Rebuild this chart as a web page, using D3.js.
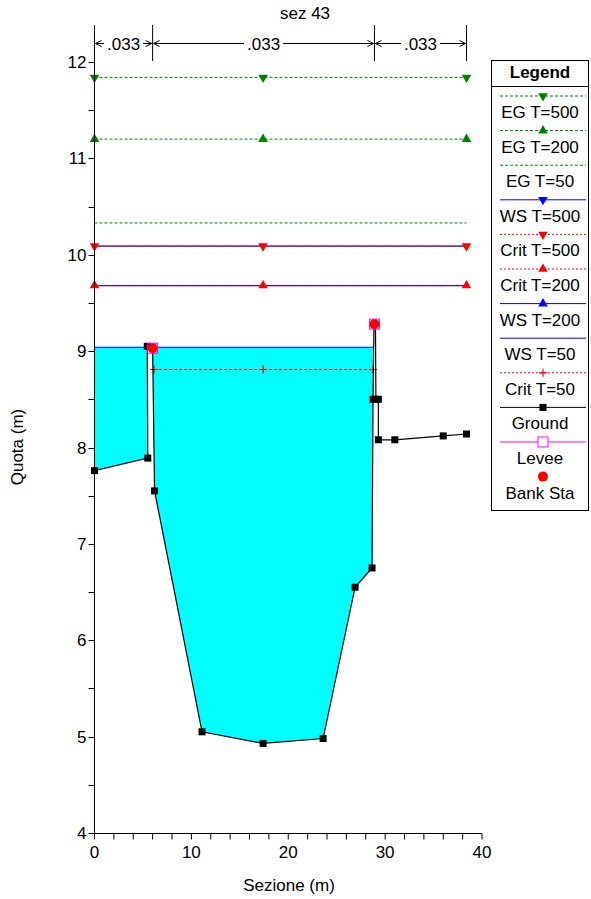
<!DOCTYPE html>
<html><head><meta charset="utf-8">
<script src="https://cdn.jsdelivr.net/npm/d3@7/dist/d3.min.js"></script>
<style>body{margin:0;background:#fff;} text{font-family:"Liberation Sans",Arial,sans-serif;}</style>
</head><body><svg id="c" width="591" height="899"></svg>
<script>
// ---- data ----
const groundX = [0, 5.5, 5.45, 6.0, 6.2, 11.1, 17.4, 23.6, 26.9, 28.65, 28.75, 28.85, 29.0, 29.05, 29.3, 29.3, 31.0, 36.0, 38.4];
const groundY = [7.76, 7.89, 9.05, 9.03, 7.55, 5.05, 4.93, 4.98, 6.55, 6.75, 8.5, 9.28, 9.28, 8.5, 8.5, 8.08, 8.08, 8.12, 8.14];
const bankX = [6.0, 28.9];
const bankY = [9.03, 9.28];
const mannX = [0, 6.0, 28.9, 38.4];
const mannN = [".033", ".033", ".033"];
const ws50 = 9.04, ws50X = [0, 28.75];
const crit50 = 8.81, crit50X = [6.15, 28.75];
const crit50Marks = [6.15, 17.4, 28.75];
const ws200 = 9.68, crit200 = 9.68;
const ws500 = 10.09, crit500 = 10.09;
const eg50 = 10.33, eg200 = 11.2, eg500 = 11.84;
const fullX = [0, 38.4];
const markerX = [0, 17.4, 38.4];
const xTicks = [0, 10, 20, 30, 40];
const yTicks = [4, 5, 6, 7, 8, 9, 10, 11, 12];
const legendItems = ["EG T=500","EG T=200","EG T=50","WS T=500","Crit T=500","Crit T=200","WS T=200","WS T=50","Crit T=50","Ground","Levee","Bank Sta"];

const svg = d3.select("#c");
const x = d3.scaleLinear().domain([0, 40]).range([94.5, 482]);
const y = d3.scaleLinear().domain([4, 12]).range([833, 62]);
const ys = v => Math.round(y(v)) + 0.5;
const GREEN = "#008000", BLUE = "#0000ff", RED = "#ff0000", MAG = "#ff00ff";
const FS = 17;

// title
svg.append("text").attr("x", 305).attr("y", 19).attr("text-anchor", "middle").attr("font-size", FS).text("sez 43");

// water fill
const ground = groundX.map((d, i) => [d, groundY[i]]);
svg.append("clipPath").attr("id", "wclip").append("rect")
  .attr("x", x(ws50X[0])).attr("y", y(ws50)).attr("width", x(ws50X[1]) - x(ws50X[0])).attr("height", y(4) - y(ws50));
svg.append("path").attr("clip-path", "url(#wclip)")
  .attr("d", d3.area().x(d => x(d[0])).y0(d => y(d[1])).y1(y(ws50))(ground))
  .attr("fill", "#00ffff");

// lines
function hline(xs, v, color, dash, w, snap) {
  const yy = snap ? ys(v) : y(v);
  svg.append("line").attr("x1", x(xs[0])).attr("x2", x(xs[1])).attr("y1", yy).attr("y2", yy)
    .attr("stroke", color).attr("stroke-width", w || 1).attr("stroke-dasharray", dash || null);
}
const triUp = d3.symbol().type(d3.symbolTriangle).size(40);
function tri(px, py, color, down) {
  svg.append("path").attr("d", triUp()).attr("fill", color)
    .attr("transform", `translate(${px},${py})` + (down ? " rotate(180)" : ""));
}
function plus(px, py, color) {
  svg.append("path").attr("d", `M${px-4},${py}H${px+4}M${px},${py-4}V${py+4}`).attr("stroke", color).attr("stroke-width", 1.2);
}
hline(fullX, eg500, GREEN, "3,2");
markerX.forEach(m => tri(x(m), y(eg500), GREEN, true));
hline(fullX, eg200, GREEN, "3,2");
markerX.forEach(m => tri(x(m), y(eg200), GREEN, false));
hline(fullX, eg50, GREEN, "3,2");
hline(fullX, ws500, BLUE, null, 1.2);
hline(fullX, crit500, RED, "2,2");
markerX.forEach(m => tri(x(m), y(crit500), RED, true));
hline(fullX, ws200, BLUE, null, 1.2);
hline(fullX, crit200, RED, "2,2");
markerX.forEach(m => tri(x(m), y(crit200), RED, false));
hline(ws50X, ws50, BLUE, null, 1.2);
hline(crit50X, crit50, RED, "3,2", 1, true);
crit50Marks.forEach(m => plus(x(m), ys(crit50), RED));

// ground
svg.append("path").attr("d", d3.line().x(d => x(d[0])).y(d => y(d[1]))(ground))
  .attr("fill", "none").attr("stroke", "#000").attr("stroke-width", 1.2);
ground.forEach(d => {
  if (d[1] === 9.28) return;
  svg.append("rect").attr("x", x(d[0]) - 3.5).attr("y", y(d[1]) - 3.5).attr("width", 7).attr("height", 7).attr("fill", "#000");
});
// levee + bank
bankX.forEach((b, i) => {
  svg.append("rect").attr("x", x(b) - 5).attr("y", y(bankY[i]) - 5).attr("width", 10).attr("height", 10)
    .attr("fill", "none").attr("stroke", MAG).attr("stroke-width", 1);
  svg.append("circle").attr("cx", x(b)).attr("cy", y(bankY[i])).attr("r", 5).attr("fill", RED);
});

// axes
const yMinor = d3.range(4, 12.01, 0.5);
const gy = svg.append("g");
gy.append("line").attr("x1", x(0)).attr("x2", x(0)).attr("y1", y(4)).attr("y2", 33).attr("stroke", "#000");
yMinor.forEach(v => gy.append("line").attr("x1", x(0) - 6).attr("x2", x(0)).attr("y1", ys(v)).attr("y2", ys(v)).attr("stroke", "#000"));
yTicks.forEach(v => gy.append("text").attr("x", x(0) - 8).attr("y", y(v) + 6).attr("text-anchor", "end").attr("font-size", FS).text(v));
const xMinor = d3.range(0, 40.01, 2);
const gx = svg.append("g");
gx.append("line").attr("x1", x(0)).attr("x2", x(40)).attr("y1", ys(4)).attr("y2", ys(4)).attr("stroke", "#000");
xMinor.forEach(v => gx.append("line").attr("x1", x(v)).attr("x2", x(v)).attr("y1", ys(4)).attr("y2", ys(4) + 6).attr("stroke", "#000"));
xTicks.forEach(v => gx.append("text").attr("x", x(v)).attr("y", 858).attr("text-anchor", "middle").attr("font-size", FS).text(v));
svg.append("text").attr("x", 289).attr("y", 891).attr("text-anchor", "middle").attr("font-size", FS).text("Sezione (m)");
svg.append("text").attr("transform", "translate(23,447) rotate(-90)").attr("text-anchor", "middle").attr("font-size", FS).text("Quota (m)");

// manning dimension lines
const ay = 43.5;
mannX.forEach(m => svg.append("line").attr("x1", x(m)).attr("x2", x(m)).attr("y1", 25).attr("y2", 61).attr("stroke", "#000"));
mannN.forEach((n, i) => {
  const a = x(mannX[i]) + 1, b = x(mannX[i + 1]) - 1, mid = (a + b) / 2;
  const t = svg.append("text").attr("x", mid).attr("y", ay + 6).attr("text-anchor", "middle").attr("font-size", FS).text(n);
  const tw = t.node().getComputedTextLength();
  svg.append("path").attr("d", `M${a},${ay}H${mid - tw / 2 - 3}M${mid + tw / 2 + 3},${ay}H${b}` +
    `M${a + 6},${ay - 3}L${a},${ay}L${a + 6},${ay + 3}M${b - 6},${ay - 3}L${b},${ay}L${b - 6},${ay + 3}`)
    .attr("fill", "none").attr("stroke", "#000");
});

// legend
const lg = svg.append("g");
lg.append("rect").attr("x", 491.5).attr("y", 60.5).attr("width", 97).attr("height", 450).attr("fill", "#fff").attr("stroke", "#000");
lg.append("line").attr("x1", 491).attr("x2", 589).attr("y1", 86.5).attr("y2", 86.5).attr("stroke", "#000");
lg.append("text").attr("x", 540).attr("y", 78).attr("text-anchor", "middle").attr("font-size", FS).attr("font-weight", "bold").text("Legend");
legendItems.forEach((name, i) => {
  const ly = 96 + i * 34.6, lx1 = 500, lx2 = 586, cx = 543;
  const seg = (c, dash) => lg.append("line").attr("x1", lx1).attr("x2", lx2).attr("y1", ly).attr("y2", ly)
    .attr("stroke", c).attr("stroke-dasharray", dash || null);
  if (name.startsWith("EG")) seg(GREEN, "3,2");
  if (name.startsWith("WS")) seg(BLUE);
  if (name.startsWith("Crit")) seg(RED, "2,2");
  if (name === "EG T=500") tri(cx, ly, GREEN, true);
  if (name === "EG T=200") tri(cx, ly, GREEN, false);
  if (name === "WS T=500") tri(cx, ly, BLUE, true);
  if (name === "Crit T=500") tri(cx, ly, RED, true);
  if (name === "Crit T=200") tri(cx, ly, RED, false);
  if (name === "WS T=200") tri(cx, ly, BLUE, false);
  if (name === "Crit T=50") plus(cx, ly, RED);
  if (name === "Ground") { seg("#000"); lg.append("rect").attr("x", cx - 3.5).attr("y", ly - 3.5).attr("width", 7).attr("height", 7).attr("fill", "#000"); }
  if (name === "Levee") { seg(MAG); lg.append("rect").attr("x", cx - 5).attr("y", ly - 5).attr("width", 10).attr("height", 10).attr("fill", "#fff").attr("stroke", MAG); }
  if (name === "Bank Sta") lg.append("circle").attr("cx", cx).attr("cy", ly).attr("r", 5).attr("fill", RED);
  lg.append("text").attr("x", 540).attr("y", ly + 22).attr("text-anchor", "middle").attr("font-size", FS).text(name);
});
</script></body></html>
